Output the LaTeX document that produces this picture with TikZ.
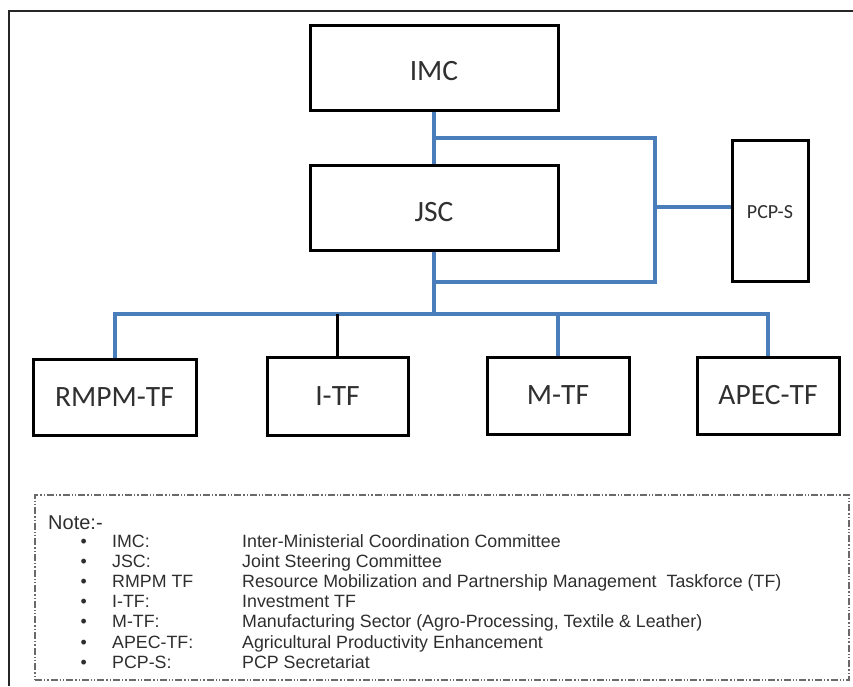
\documentclass[tikz,border=0pt]{standalone}
\usepackage{fontspec}
\setmainfont{Liberation Sans}
\newfontfamily\boxfont{Carlito}
\definecolor{linkblue}{HTML}{4A7EBB}
\definecolor{labelgray}{HTML}{303030}
\definecolor{notegray}{HTML}{2E2E2E}
\definecolor{dashgray}{HTML}{6A6A6A}
\tikzset{
  orgbox/.style={draw=black, line width=3pt, fill=white, inner sep=0pt,
    font=\boxfont\fontsize{29.5}{32}\selectfont, text=labelgray},
  smallbox/.style={orgbox, font=\boxfont\fontsize{20}{22}\selectfont},
  bluelink/.style={draw=linkblue, line width=4pt},
  blacklink/.style={draw=black, line width=2.2pt},
  notebox/.style={draw=dashgray, line width=1.3pt,
    dash pattern=on 7pt off 2pt on 1.3pt off 2pt on 1.3pt off 2pt},
  notetext/.style={anchor=base west, inner sep=0pt, text=notegray,
    font=\fontsize{17.8}{20}\selectfont},
}
\begin{document}
\begin{tikzpicture}[x=1pt,y=-1pt]
\useasboundingbox (0,0) rectangle (853,686);
% outer frame (running off the page at right and bottom)
\draw[line width=2pt, draw=black!85] (853,11) -- (9,11) -- (9,686);

% boxes
\node[orgbox, minimum width=248pt, minimum height=85pt, text height=26.6pt, text depth=0pt] (imc) at (434,67.5) {IMC};
\node[orgbox, minimum width=248pt, minimum height=85pt, text height=27.6pt, text depth=0pt] (jsc) at (434,207.5) {JSC};
\node[smallbox, minimum width=76pt, minimum height=141pt, text height=15.9pt, text depth=0pt] (pcps) at (770,210.5) {PCP-S};
\node[orgbox, minimum width=163pt, minimum height=76pt] (rmpm) at (114.5,397) {RMPM-TF};
\node[orgbox, minimum width=141pt, minimum height=78pt] (itf) at (337.5,396) {I-TF};
\node[orgbox, minimum width=142pt, minimum height=77pt] (mtf) at (558,395.5) {M-TF};
\node[orgbox, minimum width=142pt, minimum height=77pt] (apec) at (768,395.5) {APEC-TF};

% connector coordinates
\coordinate (b1) at (434,138);
\coordinate (c1) at (655,138);
\coordinate (c2) at (655,282);
\coordinate (b2) at (434,282);
\coordinate (cp) at (655,207);
\coordinate (hub) at (434,314);

% links
\draw[bluelink] (imc.south) -- (jsc.north);
\draw[bluelink] (b1) -- (c1) -- (c2) -- (b2);
\draw[bluelink] (cp) -- (cp -| pcps.west);
\draw[bluelink] (jsc.south) -- (hub);
\draw[bluelink] (hub) -| (rmpm.north);
\draw[bluelink] (hub) -| (apec.north);
\draw[bluelink] (hub -| mtf.north) -- (mtf.north);
\draw[blacklink] (hub -| itf.north) -- (itf.north);

% note box
\node[notebox, minimum width=814pt, minimum height=185pt, inner sep=0pt] (note) at (442,587.5) {};
\node[notetext, font=\fontsize{20}{22}\selectfont] (notehead) at (48,529) {Note:-};
\foreach \i/\ab/\desc in {
  0/IMC:/Inter-Ministerial Coordination Committee,
  1/JSC:/Joint Steering Committee,
  2/RMPM TF/Resource Mobilization and Partnership Management\ \ Taskforce (TF),
  3/I-TF:/Investment TF,
  4/M-TF:/{Manufacturing Sector (Agro-Processing, Textile \& Leather)},
  5/APEC-TF:/Agricultural Productivity Enhancement,
  6/PCP-S:/PCP Secretariat}{
  \node[notetext] (bul\i) at (80.5,547+20.2*\i) {\textbullet};
  \node[notetext] (ab\i) at (112,547+20.2*\i) {\ab};
  \node[notetext] (ds\i) at (242,547+20.2*\i) {\desc};
}
\end{tikzpicture}
\end{document}
